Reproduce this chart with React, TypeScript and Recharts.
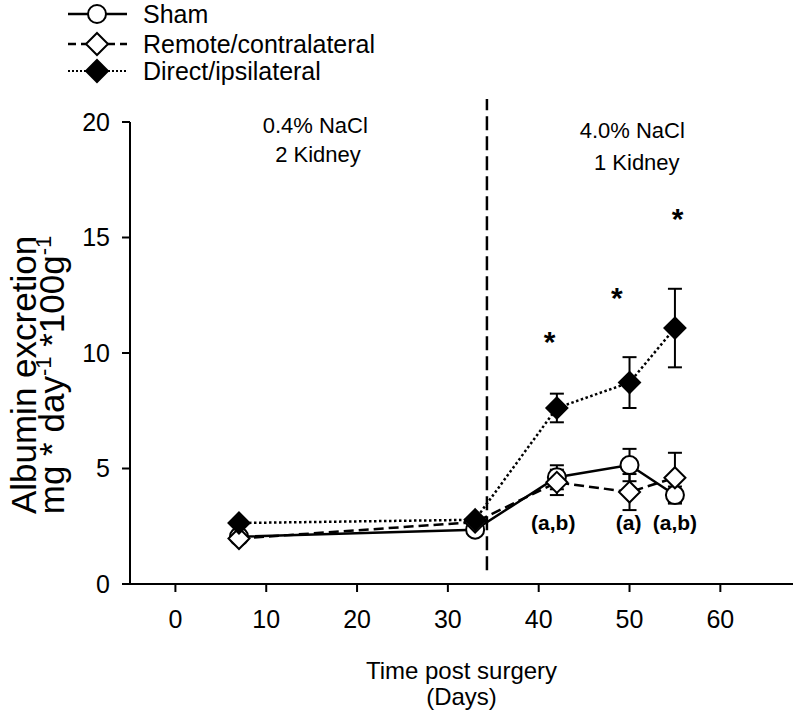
import React from 'react';
import { LineChart, Line, XAxis, YAxis, ErrorBar, ReferenceLine, ReferenceDot } from 'recharts';

const FONT = '"Liberation Sans", Arial, sans-serif';

// measurement days and group means (mg/day/100g) with SEM
const days = [7, 33, 42, 50, 55];
const sham = [2.05, 2.35, 4.62, 5.15, 3.85];
const shamErr = [0.1, 0.1, 0.52, 0.7, 0.37];
const remote = [1.97, 2.68, 4.4, 3.98, 4.6];
const remoteErr = [0.1, 0.1, 0.55, 0.78, 1.08];
const direct = [2.64, 2.78, 7.62, 8.72, 11.08];
const directErr = [0.1, 0.1, 0.62, 1.1, 1.7];

const xTicks = [0, 10, 20, 30, 40, 50, 60];
const yTicks = [0, 5, 10, 15, 20];

// diet / nephrectomy switch
const switchDay = 34.3;

// significance marks
const starDays = [41.2, 48.6, 55.3];
const starLevels = [10.8, 12.7, 16.1];
const groupLabels = ['(a,b)', '(a)', '(a,b)'];
const groupDays = [41.6, 49.9, 55];
const groupLevel = 2.34;

// phase captions
const phaseText = ['0.4% NaCl', '2 Kidney', '4.0% NaCl', '1 Kidney'];
const phaseDays = [15.4, 15.7, 50.3, 50.8];
const phaseLevels = [19.52, 18.28, 19.31, 17.92];

const data = days.map((d, i) => ({
  day: d,
  sham: sham[i],
  shamErr: shamErr[i],
  remote: remote[i],
  remoteErr: remoteErr[i],
  direct: direct[i],
  directErr: directErr[i],
}));

const circleDot = (p: any) => {
  if (p.cx == null || p.cy == null) return <g key={`c${p.index}`} />;
  return <circle key={`c${p.index}`} cx={p.cx} cy={p.cy} r={9} fill="#fff" stroke="#000" strokeWidth={2} />;
};

const diamondPath = (cx: number, cy: number, h: number) =>
  `M${cx},${cy - h}L${cx + h},${cy}L${cx},${cy + h}L${cx - h},${cy}Z`;

const diamondDot = (fill: string) => (p: any) => {
  if (p.cx == null || p.cy == null) return <g key={`d${fill}${p.index}`} />;
  return (
    <path
      key={`d${fill}${p.index}`}
      d={diamondPath(p.cx, p.cy, 10.5)}
      fill={fill}
      stroke="#000"
      strokeWidth={2}
      strokeLinejoin="miter"
    />
  );
};

const YTitle = (props: any) => {
  const vb = props.viewBox || { x: 0, y: 122, width: 130, height: 462 };
  const cy = vb.y + vb.height / 2 + 22;
  const x1 = vb.x + 36;
  const x2 = vb.x + 64;
  return (
    <g fontFamily={FONT} fill="#000">
      <text x={x1} y={cy} transform={`rotate(-90 ${x1} ${cy})`} textAnchor="middle" fontSize={35}>
        Albumin excretion
      </text>
      <text x={x2} y={cy} transform={`rotate(-90 ${x2} ${cy})`} textAnchor="middle" fontSize={35}>
        mg * day
        <tspan dy={-13} fontSize={22}>-1</tspan>
        <tspan dy={13}> *100g</tspan>
        <tspan dy={-13} fontSize={22}>-1</tspan>
      </text>
    </g>
  );
};

const XTitle = (props: any) => {
  const vb = props.viewBox || { x: 130, y: 584, width: 663, height: 60 };
  const cx = vb.x + vb.width / 2;
  return (
    <g fontFamily={FONT} fill="#000" fontSize={24}>
      <text x={cx} y={vb.y + 95} textAnchor="middle">
        Time post surgery
      </text>
      <text x={cx} y={vb.y + 121} textAnchor="middle">
        (Days)
      </text>
    </g>
  );
};

const Legend = () => (
  <svg width={400} height={90} style={{ position: 'absolute', left: 0, top: 0 }}>
    <g fontFamily={FONT} fontSize={25} fill="#000">
      <line x1={68} x2={127} y1={14} y2={14} stroke="#000" strokeWidth={2.5} />
      <circle cx={97} cy={14} r={9} fill="#fff" stroke="#000" strokeWidth={2} />
      <text x={143} y={23}>Sham</text>

      <line x1={68} x2={127} y1={44} y2={44} stroke="#000" strokeWidth={2.5} strokeDasharray="8 5" />
      <path d={diamondPath(97, 44, 11)} fill="#fff" stroke="#000" strokeWidth={2} />
      <text x={143} y={53}>Remote/contralateral</text>

      <line x1={68} x2={127} y1={71} y2={71} stroke="#000" strokeWidth={2} strokeDasharray="2 2" />
      <path d={diamondPath(97, 71, 11)} fill="#000" stroke="#000" strokeWidth={2} />
      <text x={143} y={80}>Direct/ipsilateral</text>
    </g>
  </svg>
);

export default function App() {
  return (
    <div
      style={{
        position: 'absolute',
        left: 0,
        top: 0,
        width: 796,
        height: 711,
        background: '#fff',
        fontFamily: FONT,
      }}
    >
      <LineChart width={796} height={711} data={data} margin={{ top: 122, right: 3, bottom: 67, left: 0 }}>
        <XAxis
          dataKey="day"
          type="number"
          domain={[-5, 68]}
          ticks={xTicks}
          allowDataOverflow
          height={60}
          stroke="#000"
          axisLine={{ stroke: '#000', strokeWidth: 2 }}
          tickLine={{ stroke: '#000', strokeWidth: 2 }}
          tickSize={8}
          tickMargin={18}
          tick={{ fill: '#000', fontSize: 25, fontFamily: FONT }}
          label={<XTitle />}
        />
        <YAxis
          type="number"
          domain={[0, 20]}
          ticks={yTicks}
          width={130}
          stroke="#000"
          axisLine={{ stroke: '#000', strokeWidth: 2 }}
          tickLine={{ stroke: '#000', strokeWidth: 2 }}
          tickSize={8}
          tickMargin={12}
          tick={{ fill: '#000', fontSize: 25, fontFamily: FONT }}
          label={<YTitle />}
        />

        <ReferenceLine
          segment={[
            { x: switchDay, y: 0.6 },
            { x: switchDay, y: 21 },
          ]}
          stroke="#000"
          strokeWidth={2.5}
          strokeDasharray="14 6"
          ifOverflow="visible"
        />

        {phaseText.map((t, i) => (
          <ReferenceDot
            key={`ph${i}`}
            x={phaseDays[i]}
            y={phaseLevels[i]}
            r={0}
            ifOverflow="visible"
            shape={(p: any) => (
              <text x={p.cx} y={p.cy} textAnchor="middle" fontSize={22} fontFamily={FONT} fill="#000">
                {t}
              </text>
            )}
          />
        ))}

        <Line
          dataKey="sham"
          stroke="#000"
          strokeWidth={2.5}
          dot={circleDot}
          activeDot={false}
          isAnimationActive={false}
        >
          <ErrorBar dataKey="shamErr" direction="y" width={7} stroke="#000" strokeWidth={2} />
        </Line>
        <Line
          dataKey="remote"
          stroke="#000"
          strokeWidth={2.5}
          strokeDasharray="10 5"
          dot={diamondDot('#fff')}
          activeDot={false}
          isAnimationActive={false}
        >
          <ErrorBar dataKey="remoteErr" direction="y" width={7} stroke="#000" strokeWidth={2} />
        </Line>
        <Line
          dataKey="direct"
          stroke="#000"
          strokeWidth={2.5}
          strokeDasharray="2.5 2.5"
          dot={diamondDot('#000')}
          activeDot={false}
          isAnimationActive={false}
        >
          <ErrorBar dataKey="directErr" direction="y" width={7} stroke="#000" strokeWidth={2} />
        </Line>

        {starDays.map((d, i) => (
          <ReferenceDot
            key={`st${i}`}
            x={d}
            y={starLevels[i]}
            r={0}
            ifOverflow="visible"
            shape={(p: any) => (
              <text
                x={p.cx}
                y={p.cy + 17}
                textAnchor="middle"
                fontSize={30}
                fontWeight="bold"
                fontFamily={FONT}
                fill="#000"
              >
                *
              </text>
            )}
          />
        ))}

        {groupLabels.map((t, i) => (
          <ReferenceDot
            key={`gl${i}`}
            x={groupDays[i]}
            y={groupLevel}
            r={0}
            ifOverflow="visible"
            shape={(p: any) => (
              <text
                x={p.cx}
                y={p.cy}
                textAnchor="middle"
                fontSize={21}
                fontWeight="bold"
                fontFamily={FONT}
                fill="#000"
              >
                {t}
              </text>
            )}
          />
        ))}
      </LineChart>
      <Legend />
    </div>
  );
}
